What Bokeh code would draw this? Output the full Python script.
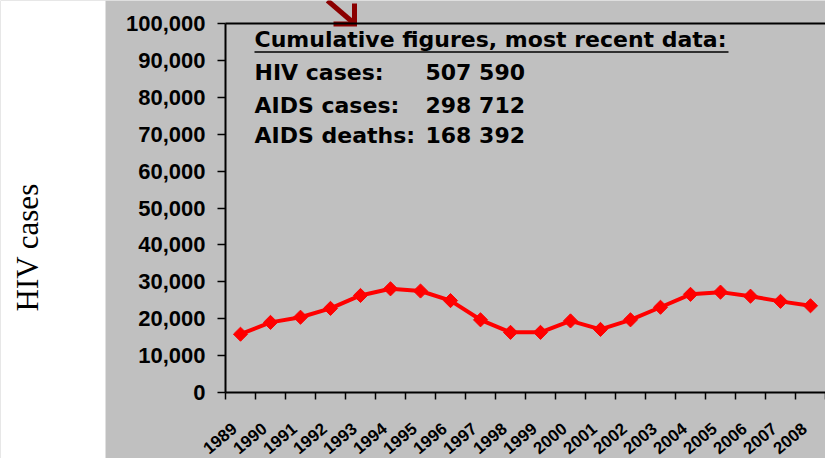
import math
from bokeh.plotting import figure
from bokeh.models import (Range1d, FixedTicker, NumeralTickFormatter, Label, LinearAxis,
                          BoxAnnotation, ColumnDataSource)
from bokeh.core.properties import value
from bokeh.embed import file_html
from bokeh.resources import INLINE

# ---------------- data ----------------
years = ["1989", "1990", "1991", "1992", "1993", "1994", "1995", "1996", "1997", "1998",
         "1999", "2000", "2001", "2002", "2003", "2004", "2005", "2006", "2007", "2008"]
hiv_cases = [15800, 19000, 20400, 22800, 26300, 28100, 27500, 24900, 19700, 16300,
             16300, 19400, 17100, 19700, 23100, 26600, 27200, 26100, 24700, 23500]
y_ticks = [0, 10000, 20000, 30000, 40000, 50000, 60000, 70000, 80000, 90000, 100000]
y_axis_title = "HIV cases"
summary_title = "Cumulative figures, most recent data:"
summary_labels = ["HIV cases:", "AIDS cases:", "AIDS deaths:"]
summary_values = ["507 590", "298 712", "168 392"]

# ---------------- layout / style ----------------
BG = "#C0C0C0"
RED = "#FF0000"
DARK_RED = "#8B0000"
W, H = 825, 458
PANEL_LEFT = 105       # page x where the grey chart panel starts
AXIS_PX = 225          # page x of the value axis
CAT_PX = 30            # px per year
ZERO_PX = 392          # page y of value 0
TOP_PX = 23            # page y of value 100,000
Y_MAX = 100000

xs = [int(y) for y in years]
n = len(xs)
x0, x1 = xs[0] - 0.5, xs[-1] + 0.5


def dx(page_x):
    return x0 + (page_x - AXIS_PX) / CAT_PX


def dy(page_y):
    return (ZERO_PX - page_y) * Y_MAX / (ZERO_PX - TOP_PX)


p = figure(width=W, height=H, x_range=Range1d(dx(0), dx(W)), y_range=Range1d(dy(H), dy(0)),
           output_backend="svg", toolbar_location=None, min_border=0,
           background_fill_color=BG, border_fill_color=BG, outline_line_color=None)
p.grid.visible = False

# white strip on the left holding the axis title
p.add_layout(BoxAnnotation(right=dx(PANEL_LEFT), fill_color="white", fill_alpha=1.0,
                           line_color=None, level="underlay"))
p.text(x=[dx(27)], y=[dy(311)], text=[y_axis_title], angle=math.pi / 2,
       text_align="left", text_baseline="middle",
       text_font=value("Liberation Serif"), text_font_size="31px", text_color="black")

# y axis (drawn at the left edge of the category range)
p.yaxis.fixed_location = x0
p.yaxis.ticker = FixedTicker(ticks=y_ticks)
p.yaxis.formatter = NumeralTickFormatter(format="0,0")
p.yaxis.bounds = (0, Y_MAX)
p.yaxis.axis_line_color = "black"
p.yaxis.axis_line_width = 2
p.yaxis.major_tick_in = 0
p.yaxis.major_tick_out = 8
p.yaxis.major_tick_line_width = 1.5
p.yaxis.minor_tick_line_color = None
p.yaxis.major_label_standoff = 12
p.yaxis.major_label_text_font = "Liberation Sans"
p.yaxis.major_label_text_font_style = "bold"
p.yaxis.major_label_text_font_size = "22px"
p.yaxis.major_label_text_color = "black"

# x axis at value 0: tick marks between years
p.xaxis.fixed_location = 0
p.xaxis.bounds = (x0, x1)
p.xaxis.ticker = FixedTicker(ticks=[], minor_ticks=[x - 0.5 for x in xs] + [x1])
p.xaxis.axis_line_color = "black"
p.xaxis.axis_line_width = 2
p.xaxis.major_tick_line_color = None
p.xaxis.minor_tick_in = 0
p.xaxis.minor_tick_out = 7
p.xaxis.minor_tick_line_color = "black"
p.xaxis.minor_tick_line_width = 1.5

# top border of the plot area
top = LinearAxis(fixed_location=Y_MAX, bounds=(x0, x1), ticker=FixedTicker(ticks=[]),
                 axis_line_color="black", axis_line_width=2,
                 major_tick_line_color=None, minor_tick_line_color=None)
p.add_layout(top, "above")

# year labels, rotated
LABEL_DX = -35 / CAT_PX
LABEL_Y = dy(450)
p.text(x=[x + LABEL_DX for x in xs], y=[LABEL_Y] * n, text=years,
       angle=math.radians(40),
       text_align="left", text_baseline="alphabetic",
       text_font=value("Liberation Sans"), text_font_style="bold",
       text_font_size="17px", text_color="black")

# series
src = ColumnDataSource(data=dict(x=xs, y=hiv_cases))
p.line("x", "y", source=src, line_color=RED, line_width=4)
p.scatter("x", "y", source=src, marker="square", angle=math.pi / 4, size=10,
          fill_color=RED, line_color=RED)

# summary text block
TXT_FONT = "DejaVu Sans"
TXT_SIZE = "22px"
p.add_layout(Label(x=dx(254), y=dy(39), text=summary_title, text_font=TXT_FONT,
                   text_font_style="bold", text_font_size=TXT_SIZE, text_color="black",
                   text_baseline="alphabetic"))
p.segment(x0=[dx(254)], y0=[dy(51.5)], x1=[dx(728)], y1=[dy(51.5)],
          line_color="black", line_width=1.5)
for lab, val, base in zip(summary_labels, summary_values, [72, 105, 135]):
    p.add_layout(Label(x=dx(254), y=dy(base), text=lab, text_font=TXT_FONT,
                       text_font_style="bold", text_font_size=TXT_SIZE,
                       text_color="black", text_baseline="alphabetic"))
    p.add_layout(Label(x=dx(425), y=dy(base), text=val, text_font=TXT_FONT,
                       text_font_style="bold", text_font_size=TXT_SIZE,
                       text_color="black", text_baseline="alphabetic"))

# dark red pointer arrow (shaft + open 90-degree head)
p.line(x=[dx(327), dx(352)], y=[dy(0), dy(21.5)], line_color=DARK_RED, line_width=5)
p.line(x=[dx(333), dx(354), dx(354)], y=[dy(23.5), dy(23.5), dy(3)],
       line_color=DARK_RED, line_width=5, line_join="miter")

open("out.html", "w").write(file_html(p, INLINE))
